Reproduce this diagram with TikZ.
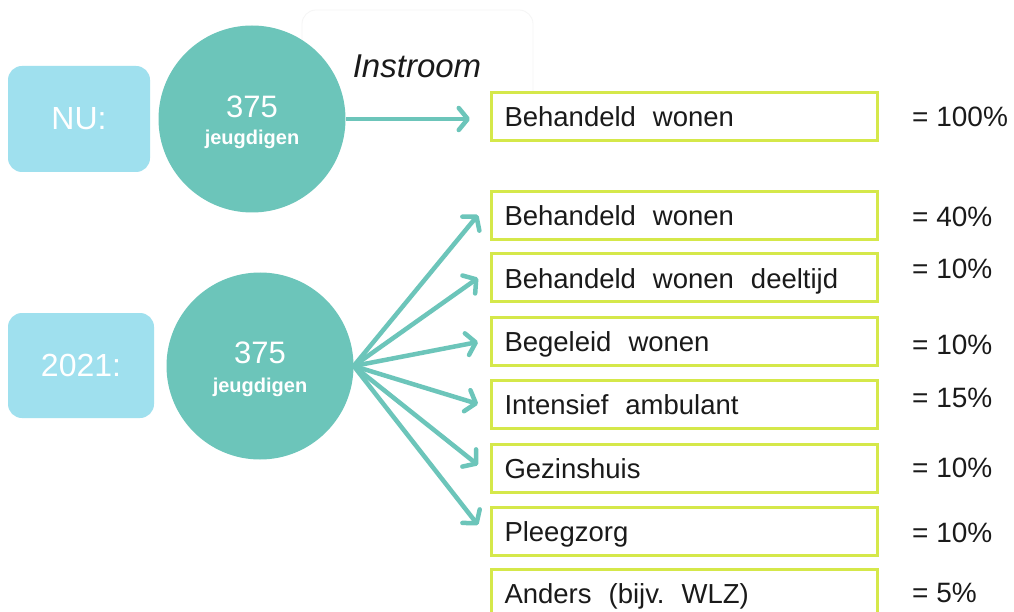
\documentclass[tikz,border=0pt]{standalone}
\usepackage{fontspec}
\setmainfont{Liberation Sans}
\usetikzlibrary{arrows.meta}
\definecolor{teal1}{HTML}{6CC5BA}
\definecolor{lblue}{HTML}{9FE0EE}
\definecolor{lime1}{HTML}{D5E84A}
\definecolor{txt}{HTML}{1A1A1A}
\newcommand\widewords{\spaceskip=17pt\relax\xspaceskip=17pt\relax}
\begin{document}
\begin{tikzpicture}[x=1pt,y=-1pt,
  tagbox/.style={fill=lblue, rounded corners=14pt, text=white, inner sep=0pt,
    font=\fontsize{32}{36}\selectfont},
  circ/.style={circle, fill=teal1, inner sep=0pt, minimum size=187pt},
  numtxt/.style={text=white, inner sep=0pt, font=\fontsize{31}{34}\selectfont},
  subtxt/.style={text=white, inner sep=0pt, font=\fontsize{20}{22}\selectfont\bfseries},
  optbox/.style={draw=lime1, line width=3pt, fill=white, anchor=west,
    minimum width=386pt, minimum height=48pt, text width=360pt, inner xsep=12pt,
    inner ysep=0pt, text height=27pt, text depth=6pt,
    align=left, text=txt, font=\fontsize{27.5}{30}\selectfont,
    execute at begin node=\widewords},
  pct/.style={anchor=west, inner sep=0pt, text=txt, font=\fontsize{28}{30}\selectfont},
  arr/.style={draw=teal1, line width=4.5pt,
    -{Straight Barb[length=9pt, width=22pt, round]}}
]
\useasboundingbox (0,0) rectangle (1014,612);
\fill[white] (0,0) rectangle (1014,612);
% faint frame behind heading
\draw[black!4, line width=0.8pt, rounded corners=14pt] (302,100) -- (302,10) -- (533,10) -- (533,100);

% left tags
\node[tagbox, minimum width=142pt, minimum height=106pt] (nu) at (79,119) {NU:};
\node[tagbox, minimum width=146pt, minimum height=105pt] (y21) at (81,365.5) {2021:};

% circles
\node[circ] (c1) at (252,119) {};
\node[numtxt] (c1n) at (252,107) {375};
\node[subtxt] (c1s) at (252,139) {jeugdigen};
\node[circ] (c2) at (260,366) {};
\node[numtxt] (c2n) at (260,353) {375};
\node[subtxt] (c2s) at (260,387) {jeugdigen};

% heading
\node[inner sep=0pt, text=txt, font=\fontsize{33}{36}\selectfont\itshape] (instr) at (417,66) {Instroom};

% option boxes
\node[optbox] (b1) at (490,116.5) {Behandeld wonen};
\node[optbox] (b2) at (490,215.5) {Behandeld wonen};
\node[optbox] (b3) at (490,277.5) {Behandeld wonen deeltijd};
\node[optbox] (b4) at (490,341) {Begeleid wonen};
\node[optbox] (b5) at (490,404) {Intensief ambulant};
\node[optbox] (b6) at (490,468) {Gezinshuis};
\node[optbox] (b7) at (490,531) {Pleegzorg};
\node[optbox] (b8) at (490,593) {Anders (bijv. WLZ)};

% percentages
\node[pct] (p1) at (912,117) {= 100\%};
\node[pct] (p2) at (912,217) {= 40\%};
\node[pct] (p3) at (912,269) {= 10\%};
\node[pct] (p4) at (912,345) {= 10\%};
\node[pct] (p5) at (912,398) {= 15\%};
\node[pct] (p6) at (912,468) {= 10\%};
\node[pct] (p7) at (912,533) {= 10\%};
\node[pct] (p8) at (912,593) {= 5\%};

% arrow targets
\coordinate (t1) at (470,119);
\coordinate (t2) at (478,215);
\coordinate (t3) at (478,278);
\coordinate (t4) at (478,342);
\coordinate (t5) at (478,404);
\coordinate (t6) at (478,465);
\coordinate (t7) at (478,525);

\draw[arr] (c1.east) -- (t1);
\foreach \i in {2,...,7} {\draw[arr] (c2.east) -- (t\i);}
\end{tikzpicture}
\end{document}
